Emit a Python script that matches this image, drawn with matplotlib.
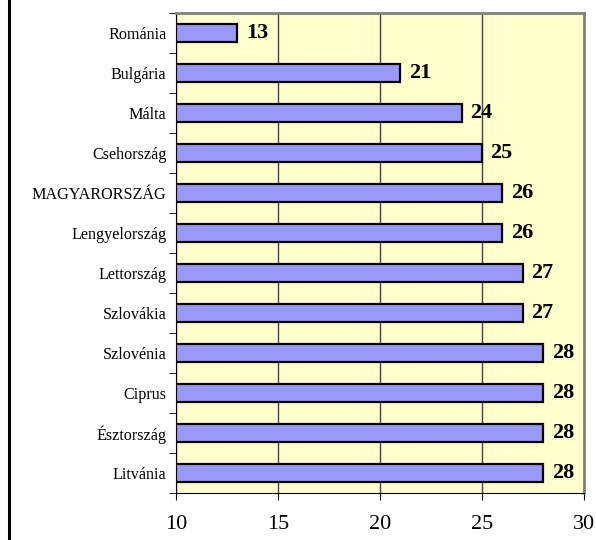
import matplotlib
matplotlib.use("Agg")
import matplotlib.pyplot as plt
from matplotlib.lines import Line2D
import numpy as np

plt.rcParams['font.family'] = ['Liberation Serif', 'DejaVu Serif']

countries = ['Románia', 'Bulgária', 'Málta', 'Csehország', 'MAGYARORSZÁG',
             'Lengyelország', 'Lettország', 'Szlovákia', 'Szlovénia', 'Ciprus',
             'Észtország', 'Litvánia']
values = [13, 21, 24, 25, 26, 26, 27, 27, 28, 28, 28, 28]
xticks = [10, 15, 20, 25, 30]

fig = plt.figure(figsize=(5.96, 5.4), dpi=100)
ax = fig.add_axes([176 / 596, 1 - 493 / 540, 408 / 596, 480 / 540])
ax.set_facecolor('#FFFFCC')

y = np.arange(len(countries))
ax.barh(y, np.array(values) - 10, left=10, height=0.47,
        color='#9999FF', edgecolor='black', linewidth=1.6, zorder=3)

for yi, v in zip(y, values):
    ax.text(v + 0.42, yi, str(v), va='center', ha='left',
            fontsize=16, fontweight='bold', zorder=4)

ax.set_xlim(10, 30)
ax.set_ylim(len(countries) - 0.5, -0.5)
ax.set_xticks(xticks)
ax.tick_params(axis='x', direction='out', length=5, pad=11, labelsize=16)
ax.xaxis.grid(True, color='#444444', linewidth=1, zorder=1)

ax.set_yticks(y)
ax.set_yticklabels(countries, fontsize=11.6)
ax.tick_params(axis='y', which='major', length=0, pad=7)
ax.set_yticks(np.arange(len(countries) + 1) - 0.5, minor=True)
ax.tick_params(axis='y', which='minor', direction='out', length=5)

ax.spines['left'].set_color('black')
ax.spines['bottom'].set_color('black')
ax.spines['top'].set_color('#808080')
ax.spines['right'].set_color('#808080')
ax.spines['top'].set_linewidth(2)
ax.spines['right'].set_linewidth(2)

fig.add_artist(Line2D([9 / 596, 9 / 596], [0, 1], color='black', linewidth=2.2,
                      transform=fig.transFigure))

fig.savefig('out.png', dpi=100)
